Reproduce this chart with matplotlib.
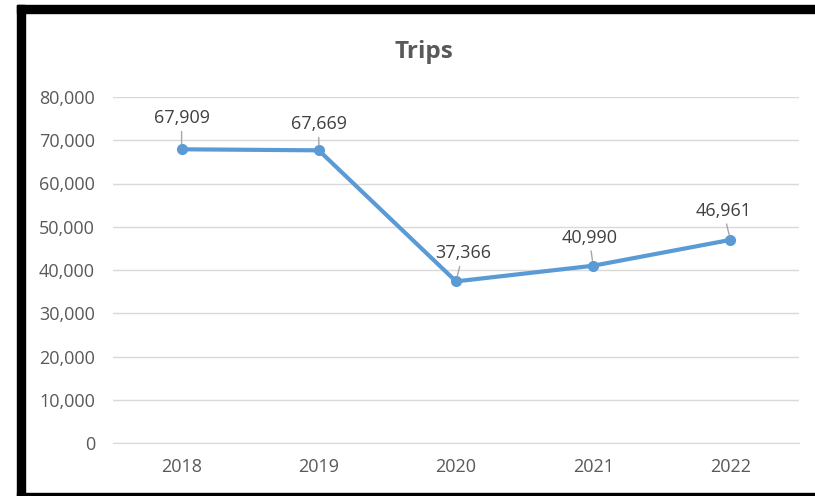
import matplotlib.pyplot as plt
from matplotlib.patches import Rectangle
from matplotlib.ticker import FuncFormatter

years = ["2018", "2019", "2020", "2021", "2022"]
trips = [67909, 67669, 37366, 40990, 46961]
# label offsets from each point, in pixels
label_dx = [0, 0, 7, -4, -7]
label_dy = [31, 26, 28, 28, 29]

plt.rcParams['font.family'] = ['Open Sans', 'DejaVu Sans']

fig = plt.figure(figsize=(8.15, 4.96), dpi=100)
ax = fig.add_axes([113 / 815, 1 - 443 / 496, 686 / 815, 346 / 496])

x = list(range(len(years)))
ax.plot(x, trips, color="#5B9BD5", linewidth=3, marker="o", markersize=7,
        solid_capstyle="round", zorder=3)

for xi, v, dx, dy in zip(x, trips, label_dx, label_dy):
    ax.annotate(f"{v:,}", (xi, v), xytext=(dx, dy), textcoords="offset pixels",
                ha="center", va="center", fontsize=13, color="#404040",
                arrowprops=dict(arrowstyle="-", color="#A6A6A6", lw=1,
                                shrinkA=1, shrinkB=4))

ax.set_xlim(-0.5, len(years) - 0.5)
ax.set_ylim(0, 80000)
ax.set_yticks(range(0, 80001, 10000))
ax.yaxis.set_major_formatter(FuncFormatter(lambda v, p: f"{int(v):,}"))
ax.set_xticks(x)
ax.set_xticklabels(years)
ax.grid(axis="y", color="#D9D9D9", linewidth=1)
ax.set_axisbelow(True)
for s in ["top", "right", "left"]:
    ax.spines[s].set_visible(False)
ax.spines["bottom"].set_color("#D9D9D9")
ax.tick_params(axis="both", length=0, labelsize=13, labelcolor="#595959")
ax.tick_params(axis="x", pad=11)
ax.tick_params(axis="y", pad=13)

fig.text(424 / 815, 1 - 52 / 496, "Trips", ha="center", va="center",
         fontsize=17.5, fontweight="bold", color="#595959")

# black frame around the chart
frame = dict(transform=None, color="black", zorder=10)
fig.patches.append(Rectangle((17, 0), 8, 491, **frame))
fig.patches.append(Rectangle((17, 483), 798, 8, **frame))
fig.patches.append(Rectangle((17, 0), 798, 3, **frame))

fig.savefig("out.png", dpi=100)
